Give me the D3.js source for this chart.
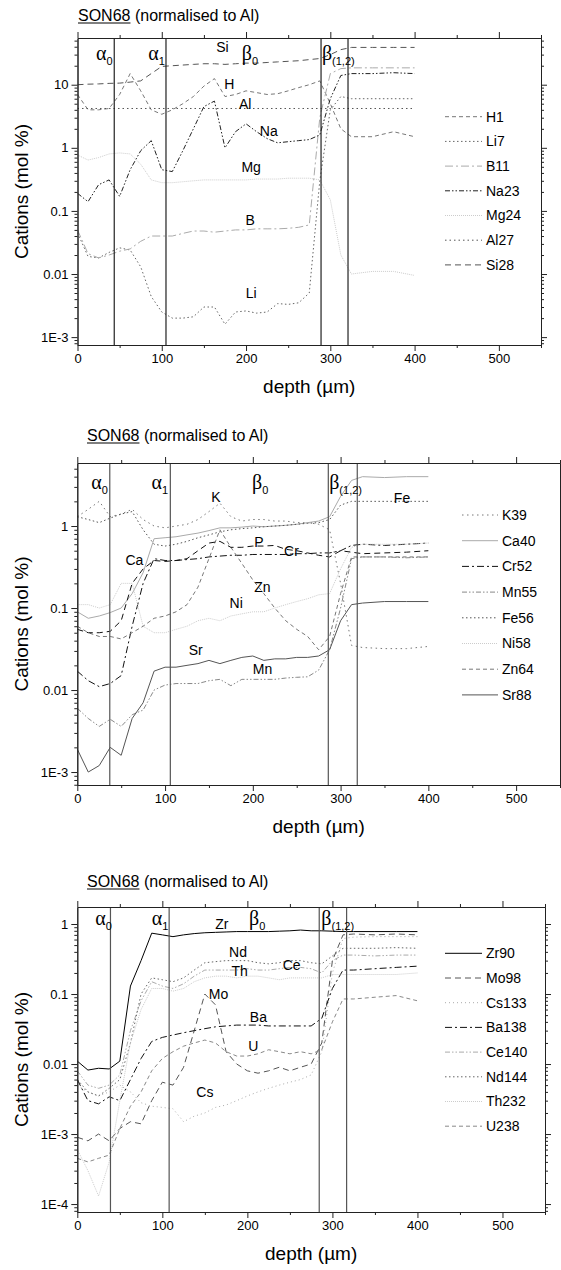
<!DOCTYPE html>
<html>
<head>
<meta charset="utf-8">
<script src="https://cdn.jsdelivr.net/npm/d3@7/dist/d3.min.js"></script>
<style>
body { margin: 0; background: #fff; }
text { font-family: "Liberation Sans", Arial, sans-serif; fill: #000; }
</style>
</head>
<body>
<svg id="chart" width="561" height="1270"></svg>
<script>
// depth of each analysis point (µm), shared by all series
var depth = [0,12.5,25,37.5,50,62.5,75,87.5,100,112.5,125,137.5,150,162.5,175,187.5,200,212.5,225,237.5,250,262.5,275,287.5,300,312.5,325,350,375,400];

// panel 1
var h1   = [7,4,4,4.2,7,15,8,4,3.4,4,5,6.5,9.5,12.5,6.5,7,8,7.5,7,7.2,8,9,10,11.5,5,2,1.5,1.5,1.8,1.5];
var li7  = [0.045,0.019,0.018,0.022,0.026,0.024,0.013,0.0044,0.0025,0.002,0.002,0.0021,0.003,0.003,0.0016,0.0025,0.0026,0.0024,0.0025,0.0034,0.0033,0.0035,0.005,0.3,4,6.5,6,6,6,6];
var b11  = [0.05,0.021,0.018,0.02,0.023,0.025,0.033,0.04,0.04,0.04,0.044,0.048,0.048,0.046,0.048,0.05,0.05,0.052,0.052,0.052,0.053,0.055,0.06,3,15,18,18.5,18.5,18.5,18.5];
var na23 = [0.19,0.14,0.26,0.31,0.17,0.45,0.9,1.3,0.45,0.42,0.9,2,4.5,5.5,1,1.8,2.4,1.8,1.4,1.2,1.25,1.3,1.35,1.6,6,14,15,15,15.5,15];
var mg24 = [0.77,0.64,0.7,0.8,0.83,0.8,0.55,0.31,0.28,0.28,0.29,0.3,0.31,0.31,0.31,0.31,0.31,0.32,0.32,0.32,0.33,0.33,0.33,0.31,0.15,0.02,0.01,0.011,0.011,0.0095];
var al27 = [4.2,4.2,4.2,4.2,4.2,4.2,4.2,4.2,4.2,4.2,4.2,4.2,4.2,4.2,4.2,4.2,4.2,4.2,4.2,4.2,4.2,4.2,4.2,4.2,4.2,4.2,4.2,4.2,4.2,4.2];
var si28 = [10,10.2,10.3,10.5,10.6,11,11.5,15,19.5,20,20.5,21,21.5,21.5,21,21.5,22,22,22.5,23,23.5,24,25,26,30,36,39,39,39,39];

// panel 2
var k39  = [1.3,1.6,2.0,1.3,1.4,1.6,1.2,1.0,0.95,1.0,1.05,1.2,1.5,1.9,1.3,1.15,1.2,1.2,1.15,1.15,1.1,1.1,1.05,0.9,0.2,0.035,0.033,0.032,0.032,0.034];
var ca40 = [0.09,0.075,0.08,0.088,0.1,0.15,0.27,0.7,0.72,0.74,0.78,0.82,0.88,0.95,0.95,0.97,1.0,0.98,1.0,1.02,1.05,1.1,1.15,1.3,2.3,3.6,4.0,3.9,4.0,4.0];
var cr52 = [0.017,0.013,0.011,0.012,0.015,0.06,0.2,0.4,0.38,0.38,0.39,0.4,0.42,0.43,0.44,0.44,0.45,0.45,0.45,0.45,0.46,0.46,0.47,0.47,0.5,0.58,0.6,0.58,0.6,0.62];
var mn55 = [0.006,0.0045,0.0036,0.0044,0.0036,0.005,0.0057,0.01,0.0115,0.012,0.012,0.012,0.013,0.0135,0.0113,0.0135,0.0135,0.0135,0.0135,0.014,0.0143,0.0145,0.0175,0.031,0.1,0.4,0.42,0.42,0.41,0.42];
var fe56 = [1.3,1.2,1.1,1.25,1.4,1.5,0.9,0.6,0.57,0.6,0.65,0.72,0.78,0.85,0.9,0.93,0.95,0.98,1.0,1.02,1.05,1.08,1.1,1.2,1.8,2.0,2.0,2.0,2.0,2.0];
var ni58 = [0.11,0.11,0.1,0.11,0.2,0.2,0.06,0.05,0.05,0.055,0.06,0.07,0.075,0.07,0.08,0.085,0.09,0.09,0.1,0.11,0.12,0.13,0.145,0.15,0.3,0.55,0.6,0.6,0.6,0.62];
var zn64 = [0.06,0.05,0.045,0.045,0.042,0.05,0.06,0.075,0.08,0.09,0.11,0.18,0.4,0.9,0.55,0.35,0.22,0.15,0.1,0.07,0.055,0.045,0.031,0.045,0.15,0.42,0.42,0.42,0.42,0.42];
var sr88 = [0.0019,0.001,0.0012,0.002,0.0016,0.0045,0.007,0.017,0.019,0.019,0.02,0.021,0.023,0.021,0.023,0.025,0.026,0.023,0.024,0.024,0.025,0.025,0.026,0.031,0.07,0.11,0.115,0.12,0.12,0.12];
var p31  = [0.055,0.05,0.05,0.052,0.07,0.2,0.3,0.38,0.37,0.38,0.4,0.5,0.62,0.65,0.55,0.55,0.57,0.57,0.58,0.52,0.5,0.47,0.44,0.42,0.5,0.48,0.46,0.47,0.48,0.5];

// panel 3
var zr90  = [0.011,0.0082,0.0087,0.0085,0.011,0.13,0.3,0.74,0.7,0.66,0.7,0.73,0.75,0.76,0.77,0.78,0.78,0.78,0.78,0.79,0.8,0.82,0.8,0.8,0.79,0.78,0.78,0.78,0.78,0.78];
var mo98  = [0.0009,0.0008,0.001,0.0008,0.0012,0.0015,0.0014,0.003,0.0055,0.005,0.009,0.03,0.1,0.07,0.015,0.01,0.008,0.0074,0.008,0.009,0.008,0.009,0.01,0.02,0.3,0.7,0.72,0.7,0.72,0.7];
var cs133 = [0.005,0.004,0.0035,0.004,0.005,0.004,0.0028,0.0025,0.0024,0.0023,0.0015,0.0018,0.002,0.0024,0.0026,0.003,0.0035,0.004,0.0045,0.005,0.0055,0.006,0.007,0.015,0.2,0.62,0.65,0.66,0.66,0.66];
var ba138 = [0.006,0.003,0.0027,0.0034,0.003,0.006,0.012,0.021,0.024,0.026,0.028,0.03,0.032,0.034,0.035,0.036,0.036,0.036,0.035,0.035,0.035,0.035,0.035,0.045,0.12,0.22,0.22,0.23,0.24,0.25];
var ce140 = [0.008,0.005,0.0045,0.005,0.007,0.03,0.08,0.15,0.13,0.12,0.14,0.18,0.22,0.22,0.22,0.22,0.23,0.22,0.22,0.23,0.24,0.24,0.23,0.2,0.3,0.36,0.36,0.35,0.36,0.36];
var nd144 = [0.006,0.004,0.0035,0.0045,0.006,0.02,0.1,0.17,0.16,0.15,0.17,0.22,0.28,0.29,0.3,0.3,0.3,0.28,0.27,0.28,0.3,0.3,0.28,0.27,0.35,0.45,0.45,0.45,0.46,0.45];
var th232 = [0.0006,0.0003,0.00013,0.0004,0.003,0.02,0.06,0.12,0.12,0.11,0.12,0.15,0.17,0.18,0.18,0.17,0.18,0.18,0.17,0.16,0.17,0.17,0.17,0.17,0.19,0.19,0.19,0.19,0.19,0.2];
var u238  = [0.00045,0.0004,0.00045,0.0005,0.0012,0.0025,0.004,0.008,0.012,0.015,0.018,0.02,0.022,0.02,0.015,0.013,0.013,0.014,0.016,0.015,0.014,0.015,0.014,0.016,0.04,0.085,0.085,0.09,0.095,0.08];

// layer boundaries (µm)
var bounds1 = [43.6, 105, 289, 321];
var bounds2 = [37, 106, 286, 319];
var bounds3 = [39, 108, 284.5, 316.7];

// x ticks
var xMajor = [0,100,200,300,400,500];
var xMinor = [50,150,250,350,450,550];

// line styles
var styles = {
  H1:   {c: "#777", d: "4,3"},
  Li7:  {c: "#666", d: "1.5,2.5"},
  B11:  {c: "#aaa", d: "8,3,2,3"},
  Na23: {c: "#222", d: "5,2,1.5,2,1.5,2"},
  Mg24: {c: "#ccc", d: "1,1"},
  Al27: {c: "#555", d: "1.5,3"},
  Si28: {c: "#555", d: "6,4"},
  K39:  {c: "#777", d: "1.5,3.5"},
  Ca40: {c: "#aaa", d: null},
  Cr52: {c: "#111", d: "7,3,2,3"},
  Mn55: {c: "#888", d: "5,2,1.5,2,1.5,2"},
  Fe56: {c: "#555", d: "1.5,2.5"},
  Ni58: {c: "#ccc", d: "1,1"},
  Zn64: {c: "#777", d: "4,3"},
  Sr88: {c: "#555", d: null},
  P31:  {c: "#111", d: "6,4"},
  Zr90:  {c: "#000", d: null},
  Mo98:  {c: "#555", d: "6,4"},
  Cs133: {c: "#aaa", d: "1,3"},
  Ba138: {c: "#111", d: "7,3,2,3"},
  Ce140: {c: "#aaa", d: "5,2,1.5,2,1.5,2"},
  Nd144: {c: "#666", d: "1.5,2.5"},
  Th232: {c: "#ccc", d: "1,1"},
  U238:  {c: "#888", d: "4,3"}
};

var svg = d3.select("#chart");

function tickFmt(v) {
  var e = Math.round(Math.log10(v));
  if (e >= -2) return String(+v.toPrecision(1));
  return "1E" + e;
}
function noLabel() { return ""; }

function drawPanel(cfg) {
  var x = d3.scaleLinear().domain([0, 550]).range([cfg.left, cfg.right]);
  var y = d3.scaleLog().domain(cfg.yDomain).range([cfg.bottom, cfg.top]);
  var g = svg.append("g");

  // decade and 2..9 ticks inside the y range
  var lo = Math.floor(Math.log10(cfg.yDomain[0])), hi = Math.ceil(Math.log10(cfg.yDomain[1]));
  var majors = [], minors = [];
  for (var e = lo; e <= hi; e++) {
    var base = Math.pow(10, e);
    if (base >= cfg.yDomain[0] && base <= cfg.yDomain[1]) majors.push(base);
    for (var k = 2; k <= 9; k++) {
      var v = k * base;
      if (v >= cfg.yDomain[0] && v <= cfg.yDomain[1]) minors.push(v);
    }
  }

  var clipId = "clip" + cfg.id;
  svg.append("clipPath").attr("id", clipId).append("rect")
    .attr("x", cfg.left).attr("y", cfg.top)
    .attr("width", cfg.right - cfg.left).attr("height", cfg.bottom - cfg.top);

  // series
  var line = d3.line()
    .x(function(d, i) { return x(depth[i]); })
    .y(function(d) { return y(d); });
  var lg = g.append("g").attr("clip-path", "url(#" + clipId + ")");
  cfg.series.forEach(function(s) {
    var st = styles[s.name];
    lg.append("path")
      .attr("d", line(s.values))
      .attr("fill", "none")
      .attr("stroke", st.c)
      .attr("stroke-width", 1)
      .attr("stroke-dasharray", st.d);
  });

  // layer boundaries
  g.selectAll("line.bound").data(cfg.bounds).enter().append("line")
    .attr("class", "bound")
    .attr("x1", function(d) { return x(d); }).attr("x2", function(d) { return x(d); })
    .attr("y1", cfg.top).attr("y2", cfg.bottom)
    .attr("stroke", cfg.boundColor).attr("stroke-width", 1.2);

  // axes: major + minor on each side
  var sides = [
    {make: function() { return d3.axisLeft(y); },   pos: "translate(" + cfg.left + ",0)",   maj: majors, min: minors, fmt: tickFmt},
    {make: function() { return d3.axisRight(y); },  pos: "translate(" + cfg.right + ",0)",  maj: majors, min: minors, fmt: noLabel},
    {make: function() { return d3.axisBottom(x); }, pos: "translate(0," + cfg.bottom + ")", maj: xMajor, min: xMinor, fmt: function(d) { return d; }},
    {make: function() { return d3.axisTop(x); },    pos: "translate(0," + cfg.top + ")",    maj: xMajor, min: xMinor, fmt: noLabel}
  ];
  sides.forEach(function(s) {
    g.append("g").attr("transform", s.pos)
      .call(s.make().tickValues(s.maj).tickSize(6).tickSizeOuter(0).tickFormat(s.fmt))
      .selectAll("text").attr("font-size", 13).attr("fill", "#000");
    g.append("g").attr("transform", s.pos)
      .call(s.make().tickValues(s.min).tickSize(3).tickSizeOuter(0).tickFormat(noLabel));
  });
  g.selectAll(".domain, .tick line").attr("stroke", "#222");
  g.selectAll(".tick text").style("font-family", "Liberation Sans, Arial, sans-serif");

  // title, SON68 underlined
  var t = g.append("text").attr("x", cfg.titleX).attr("y", cfg.titleY).attr("font-size", 16);
  t.append("tspan").text("SON68");
  t.append("tspan").text(" (normalised to Al)");
  var uw = t.node().getSubStringLength(0, 5);
  g.append("line").attr("x1", cfg.titleX).attr("x2", cfg.titleX + uw)
    .attr("y1", cfg.titleY + 2).attr("y2", cfg.titleY + 2).attr("stroke", "#000");

  // axis titles
  g.append("text")
    .attr("transform", "translate(28," + ((cfg.top + cfg.bottom) / 2) + ") rotate(-90)")
    .attr("text-anchor", "middle").attr("font-size", 19)
    .text("Cations (mol %)");
  g.append("text")
    .attr("x", x(275)).attr("y", cfg.bottom + 48)
    .attr("text-anchor", "middle").attr("font-size", 19)
    .text("depth (\u00b5m)");

  // layer labels (greek in a serif face, like the Symbol font of the original)
  cfg.layers.forEach(function(L) {
    var tx = g.append("text").attr("x", x(L.x)).attr("y", y(cfg.layerY));
    tx.append("tspan").attr("font-size", 20)
      .style("font-family", "Liberation Serif, DejaVu Serif, serif").text(L.sym);
    tx.append("tspan").attr("dy", 5).attr("font-size", 11).text(L.sub);
  });

  // curve labels
  cfg.labels.forEach(function(L) {
    g.append("text").attr("x", x(L.x)).attr("y", y(L.v)).attr("dy", "0.35em")
      .attr("text-anchor", "middle").attr("font-size", 14).text(L.t);
  });

  // legend
  cfg.legend.forEach(function(name, i) {
    var st = styles[name];
    var ly = cfg.legY + i * cfg.legStep;
    g.append("line").attr("x1", cfg.legX1).attr("x2", cfg.legX2)
      .attr("y1", ly).attr("y2", ly)
      .attr("stroke", st.c).attr("stroke-width", 1).attr("stroke-dasharray", st.d);
    g.append("text").attr("x", cfg.legX2 + 4).attr("y", ly).attr("dy", "0.35em")
      .attr("font-size", 14).text(name);
  });
}

drawPanel({
  id: 1, left: 77.5, right: 541, top: 38, bottom: 345, yDomain: [7.5e-4, 55],
  titleX: 78, titleY: 21, boundColor: "#222", bounds: bounds1, layerY: 25,
  layers: [{sym: "\u03b1", sub: "0", x: 22}, {sym: "\u03b1", sub: "1", x: 84},
           {sym: "\u03b2", sub: "0", x: 195}, {sym: "\u03b2", sub: "(1,2)", x: 290}],
  series: [{name: "H1", values: h1}, {name: "Li7", values: li7}, {name: "B11", values: b11},
           {name: "Na23", values: na23}, {name: "Mg24", values: mg24}, {name: "Al27", values: al27},
           {name: "Si28", values: si28}],
  labels: [{t: "Si", x: 172, v: 40}, {t: "H", x: 180, v: 10.3}, {t: "Al", x: 199, v: 5.0},
           {t: "Na", x: 227, v: 1.87}, {t: "Mg", x: 206, v: 0.5}, {t: "B", x: 205, v: 0.072},
           {t: "Li", x: 206, v: 0.0049}],
  legend: ["H1", "Li7", "B11", "Na23", "Mg24", "Al27", "Si28"],
  legX1: 445, legX2: 482, legY: 116.7, legStep: 24.7
});

drawPanel({
  id: 2, left: 77.3, right: 560, top: 463, bottom: 785, yDomain: [6.95e-4, 5.87],
  titleX: 87, titleY: 441, boundColor: "#555", bounds: bounds2, layerY: 2.83,
  layers: [{sym: "\u03b1", sub: "0", x: 16}, {sym: "\u03b1", sub: "1", x: 84.5},
           {sym: "\u03b2", sub: "0", x: 199}, {sym: "\u03b2", sub: "(1,2)", x: 287}],
  series: [{name: "K39", values: k39}, {name: "Ca40", values: ca40}, {name: "Cr52", values: cr52},
           {name: "Mn55", values: mn55}, {name: "Fe56", values: fe56}, {name: "Ni58", values: ni58},
           {name: "Zn64", values: zn64}, {name: "Sr88", values: sr88}, {name: "P31", values: p31}],
  labels: [{t: "K", x: 158, v: 2.28}, {t: "Ca", x: 65, v: 0.385}, {t: "P", x: 207, v: 0.64},
           {t: "Cr", x: 244, v: 0.49}, {t: "Zn", x: 211, v: 0.18}, {t: "Ni", x: 181, v: 0.114},
           {t: "Fe", x: 370, v: 2.2}, {t: "Sr", x: 135, v: 0.031}, {t: "Mn", x: 211, v: 0.018}],
  legend: ["K39", "Ca40", "Cr52", "Mn55", "Fe56", "Ni58", "Zn64", "Sr88"],
  legX1: 462, legX2: 498, legY: 515, legStep: 25.7
});

drawPanel({
  id: 3, left: 77.3, right: 545, top: 907, bottom: 1212, yDomain: [7.7e-5, 1.75],
  titleX: 87, titleY: 887, boundColor: "#555", bounds: bounds3, layerY: 0.97,
  layers: [{sym: "\u03b1", sub: "0", x: 21}, {sym: "\u03b1", sub: "1", x: 87.5},
           {sym: "\u03b2", sub: "0", x: 202}, {sym: "\u03b2", sub: "(1,2)", x: 287}],
  series: [{name: "Zr90", values: zr90}, {name: "Mo98", values: mo98}, {name: "Cs133", values: cs133},
           {name: "Ba138", values: ba138}, {name: "Ce140", values: ce140}, {name: "Nd144", values: nd144},
           {name: "Th232", values: th232}, {name: "U238", values: u238}],
  labels: [{t: "Zr", x: 170, v: 1.0}, {t: "Nd", x: 189, v: 0.4}, {t: "Th", x: 191, v: 0.21},
           {t: "Ce", x: 252, v: 0.26}, {t: "Mo", x: 166, v: 0.1}, {t: "Ba", x: 213, v: 0.047},
           {t: "U", x: 207, v: 0.018}, {t: "Cs", x: 150, v: 0.004}],
  legend: ["Zr90", "Mo98", "Cs133", "Ba138", "Ce140", "Nd144", "Th232", "U238"],
  legX1: 445, legX2: 482, legY: 953.3, legStep: 24.7
});
</script>
</body>
</html>
